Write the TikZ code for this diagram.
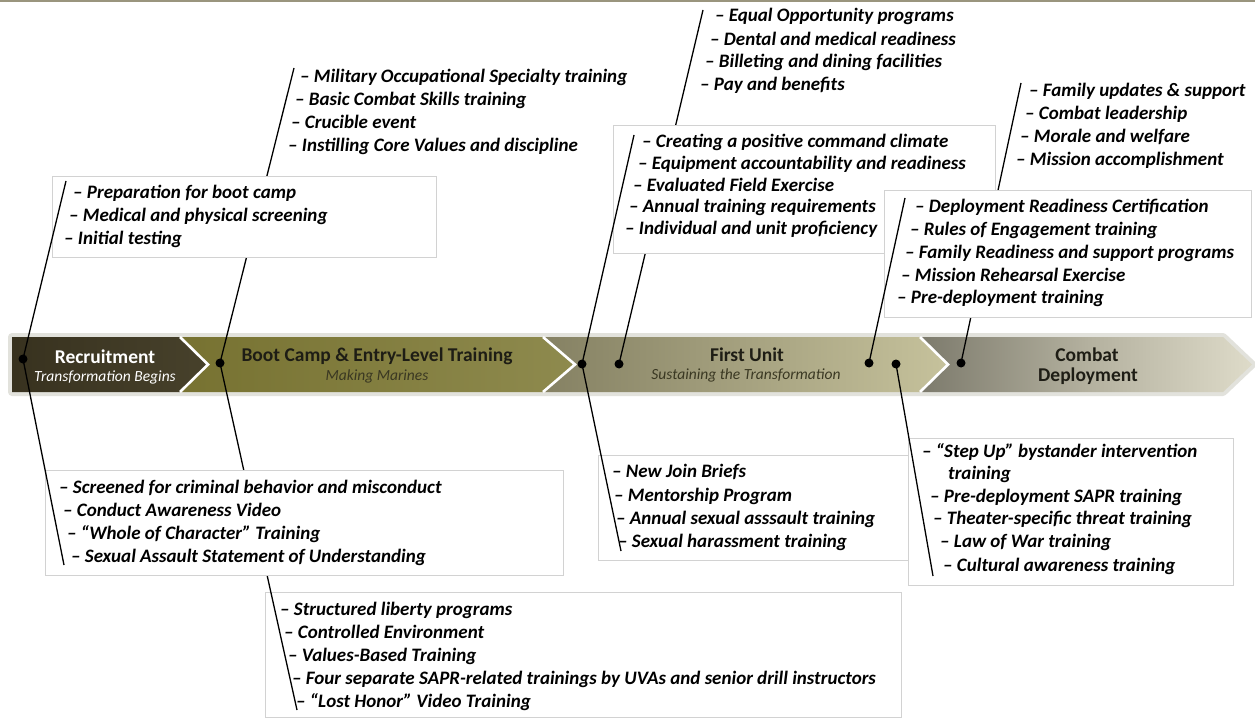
\documentclass[tikz,border=0pt]{standalone}
\usepackage{fontspec}
\setmainfont{Carlito}
\definecolor{boxline}{HTML}{D2D2D2}
\definecolor{halo}{HTML}{E2E2DC}
\definecolor{topline}{HTML}{9A957E}
\definecolor{sOneL}{HTML}{38321F}
\definecolor{sOneR}{HTML}{47412B}
\definecolor{sTwoL}{HTML}{777231}
\definecolor{sTwoR}{HTML}{8E8A4E}
\definecolor{sThreeL}{HTML}{858163}
\definecolor{sThreeR}{HTML}{C6C29C}
\definecolor{sFourL}{HTML}{7C7A6C}
\definecolor{sFourM}{HTML}{B3B09E}
\definecolor{sFourR}{HTML}{DEDBC9}
\definecolor{darktxt}{HTML}{1E1D15}
\definecolor{subtxt}{HTML}{3A3822}
\begin{document}
\begin{tikzpicture}[x=1pt,y=-1pt,
  conn/.style={line width=1.3pt, black},
  dotn/.style={circle, fill=black, inner sep=0pt, minimum size=9pt},
  box/.style={draw=boxline, fill=white, line width=0.8pt, inner sep=0pt, anchor=north west},
  item/.style={anchor=west, inner sep=0pt, font=\fontsize{19}{22}\selectfont\bfseries\itshape, text height=14pt, text depth=4.5pt},
  ttl/.style={inner sep=0pt, font=\fontsize{19.5}{22}\selectfont\bfseries},
  sub/.style={inner sep=0pt, font=\fontsize{15.5}{18}\selectfont\itshape},
  sep/.style={white, line width=2.6pt}
]
\useasboundingbox (0,0) rectangle (1255,719);
\fill[white] (0,0) rectangle (1255,719);
\fill[topline] (0,0) rectangle (1255,2.5);

% ---- band ----
\draw[halo, line width=8pt, line join=round] (12,337) -- (1223,337) -- (1252,364.5) -- (1223,392) -- (12,392) -- cycle;
\shade[left color=sOneL, right color=sOneR] (12,337) -- (180,337) -- (208,364.5) -- (180,392) -- (12,392) -- cycle;
\shade[left color=sTwoL, right color=sTwoR] (180,337) -- (543,337) -- (575,364.5) -- (543,392) -- (180,392) -- (208,364.5) -- cycle;
\shade[left color=sThreeL, right color=sThreeR] (543,337) -- (920,337) -- (948,364.5) -- (920,392) -- (543,392) -- (575,364.5) -- cycle;
\shade[left color=sFourL, right color=sFourR, middle color=sFourM] (920,337) -- (1223,337) -- (1252,364.5) -- (1223,392) -- (920,392) -- (948,364.5) -- cycle;
\draw[sep] (180,337) -- (208,364.5) -- (180,392);
\draw[sep] (543,337) -- (575,364.5) -- (543,392);
\draw[sep] (920,337) -- (948,364.5) -- (920,392);

\node[ttl, text=white] (tRec) at (105,357) {Recruitment};
\node[sub, text=white] (sRec) at (105,377) {Transformation Begins};
\node[ttl, text=darktxt] (tBoot) at (377,356) {Boot Camp \& Entry-Level Training};
\node[sub, text=subtxt] (sBoot) at (377,376) {Making Marines};
\node[ttl, text=darktxt] (tFirst) at (747,355) {First Unit};
\node[sub, text=subtxt] (sFirst) at (746,375) {Sustaining the Transformation};
\node[ttl, text=darktxt] (tComb) at (1087,355) {Combat};
\node[ttl, text=darktxt] (tDep) at (1088,376) {Deployment};

% ---- dot centres and line ends ----
\coordinate (dR) at (23,359);
\coordinate (dB) at (220,363);
\coordinate (dFa) at (582,364);
\coordinate (dFb) at (619,364);
\coordinate (dFc) at (869,363);
\coordinate (dFd) at (896,364);
\coordinate (dC) at (961,363);
\coordinate (endA) at (66,181);
\coordinate (endB) at (294,68);
\coordinate (endThree) at (703,10);
\coordinate (endC) at (634,135);
\coordinate (endE) at (1021,83);
\coordinate (endD) at (905,198);
\coordinate (endH) at (64,565);
\coordinate (endI) at (297,710);
\coordinate (endG) at (621,551);
\coordinate (endF) at (933,576);

% lines hidden behind boxes
\draw[conn] (dB) -- (endB);
\draw[conn] (dFb) -- (endThree);
\draw[conn] (dC) -- (endE);

% lower left
\node[box, minimum width=636pt, minimum height=125pt] (boxI) at (265,592) {};
\draw[conn] (dB) -- (endI);
\node[box, minimum width=518pt, minimum height=105pt] (boxH) at (45,470) {};
\draw[conn] (dR) -- (endH);

% upper left
\node[box, minimum width=384pt, minimum height=81pt] (boxA) at (52,176) {};
\draw[conn] (dR) -- (endA);

% first unit upper
\node[box, minimum width=382pt, minimum height=128pt] (boxC) at (613,125) {};
\draw[conn] (dFa) -- (endC);
\node[box, minimum width=367pt, minimum height=127pt] (boxD) at (884,190) {};
\draw[conn] (dFc) -- (endD);

% lower right
\node[box, minimum width=310pt, minimum height=105pt] (boxG) at (598,455) {};
\draw[conn] (dFa) -- (endG);
\node[box, minimum width=325pt, minimum height=147pt] (boxF) at (908,438) {};
\draw[conn] (dFd) -- (endF);

% ---- texts ----
\node[item] (a1) at (73,194) {– Preparation for boot camp};
\node[item] (a2) at (69,217) {– Medical and physical screening};
\node[item] (a3) at (64,240) {– Initial testing};

\node[item] (b1) at (300,78) {– Military Occupational Specialty training};
\node[item] (b2) at (295,101) {– Basic Combat Skills training};
\node[item] (b3) at (291,124) {– Crucible event};
\node[item] (b4) at (288,147) {– Instilling Core Values and discipline};

\node[item] (e1) at (715,17) {– Equal Opportunity programs};
\node[item] (e2) at (710,41) {– Dental and medical readiness};
\node[item] (e3) at (705,63) {– Billeting and dining facilities};
\node[item] (e4) at (700,86) {– Pay and benefits};

\node[item] (c1) at (642,143) {– Creating a positive command climate};
\node[item] (c2) at (638,165) {– Equipment accountability and readiness};
\node[item] (c3) at (633,187) {– Evaluated Field Exercise};
\node[item] (c4) at (629,208) {– Annual training requirements};
\node[item] (c5) at (625,230) {– Individual and unit proficiency};

\node[item] (f1) at (1029,92) {– Family updates \& support};
\node[item] (f2) at (1025,115) {– Combat leadership};
\node[item] (f3) at (1020,138) {– Morale and welfare};
\node[item] (f4) at (1016,161) {– Mission accomplishment};

\node[item] (d1) at (915,208) {– Deployment Readiness Certification};
\node[item] (d2) at (910,231) {– Rules of Engagement training};
\node[item] (d3) at (905,254) {– Family Readiness and support programs};
\node[item] (d4) at (901,277) {– Mission Rehearsal Exercise};
\node[item] (d5) at (897,299) {– Pre-deployment training};

\node[item] (h1) at (59,489) {– Screened for criminal behavior and misconduct};
\node[item] (h2) at (63,512) {– Conduct Awareness Video};
\node[item] (h3) at (67,535) {– “Whole of Character” Training};
\node[item] (h4) at (71,558) {– Sexual Assault Statement of Understanding};

\node[item] (i1) at (280,611) {– Structured liberty programs};
\node[item] (i2) at (284,634) {– Controlled Environment};
\node[item] (i3) at (288,657) {– Values-Based Training};
\node[item] (i4) at (292,680) {– Four separate SAPR-related trainings by UVAs and senior drill instructors};
\node[item] (i5) at (296,703) {– “Lost Honor” Video Training};

\node[item] (g1) at (612,473) {– New Join Briefs};
\node[item] (g2) at (614,497) {– Mentorship Program};
\node[item] (g3) at (616,520) {– Annual sexual asssault training};
\node[item] (g4) at (618,543) {– Sexual harassment training};

\node[item] (s1) at (922,453) {– “Step Up” bystander intervention};
\node[item] (s1b) at (948,475) {training};
\node[item] (s2) at (930,498) {– Pre-deployment SAPR training};
\node[item] (s3) at (933,520) {– Theater-specific threat training};
\node[item] (s4) at (940,543) {– Law of War training};
\node[item] (s5) at (943,567) {– Cultural awareness training};

% ---- dots ----
\foreach \d in {dR,dB,dFa,dFb,dFc,dFd,dC} \node[dotn] (n\d) at (\d) {};
\end{tikzpicture}
\end{document}
